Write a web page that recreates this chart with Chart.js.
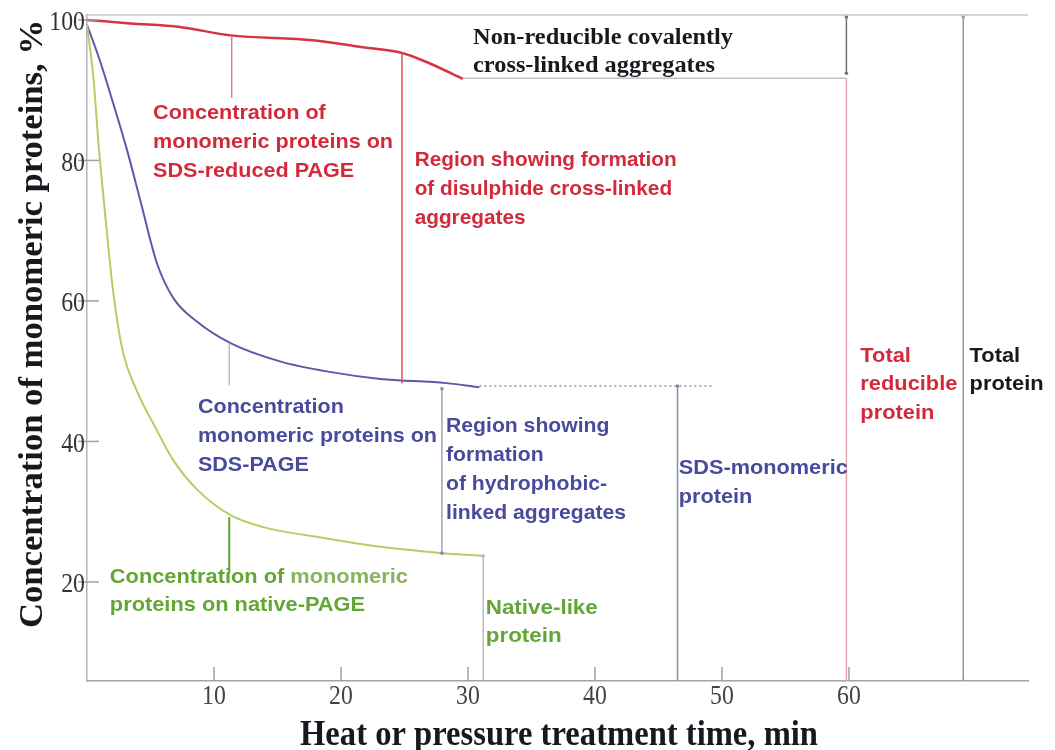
<!DOCTYPE html>
<html>
<head>
<meta charset="utf-8">
<script src="https://cdn.jsdelivr.net/npm/chart.js@4.4.1/dist/chart.umd.min.js"></script>
<style>
  html, body { margin: 0; padding: 0; background: #fff; }
  #wrap { width: 1055px; height: 750px; }
</style>
</head>
<body>
<div id="wrap"><canvas id="chart"></canvas></div>
<script>
'use strict';

// ─── Data ─────────────────────────────────────────────────────────────────────
const X_MIN = 0, X_MAX = 74.1;
const Y_MIN = 5.9, Y_MAX = 100.7;

const xTicks = [10, 20, 30, 40, 50, 60];
const yTicks = [20, 40, 60, 80, 100];

// SDS-reduced PAGE (red)
const timeRed = [0, 3.4, 7.3, 11.3, 17.8, 21.7, 24.8, 27.0, 29.6];
const sdsReduced = [100, 99.5, 99.0, 97.8, 97.1, 96.1, 95.3, 93.8, 91.6];

// SDS-PAGE (blue)
const timeBlue = [0, 1.0, 2.05, 3.15, 4.2, 5.5, 6.8, 8.7, 11.3, 15.2, 19.1, 23.1, 28.3, 30.9];
const sdsPage = [99.3, 94.3, 88.2, 81.5, 74.3, 65.4, 60.4, 57.0, 54.0, 51.4, 49.9, 48.9, 48.3, 47.7];

// native-PAGE (green)
const timeGreen = [0, 0.5, 0.9, 1.4, 2.05, 2.8, 3.9, 5.5, 6.8, 8.7, 11.3, 13.9, 17.8, 23.1, 28.0, 31.2];
const nativePage = [99.3, 91.9, 82.5, 72.9, 61.5, 53.0, 47.3, 41.6, 37.3, 33.1, 29.5, 27.8, 26.5, 25.0, 24.1, 23.7];

// guide segments [time, %]
const redPointer = [[11.4, 97.8], [11.4, 88.9]];
const disulphideGap = [[24.8, 95.3], [24.8, 48.3]];
const bluePointer = [[11.2, 54.0], [11.2, 48.0]];
const hydrophobicGap = [[27.95, 47.5], [27.95, 24.1]];
const sdsMonomerLevel = [[30.9, 47.9], [49.2, 47.9]];
const sdsMonomerDrop = [[46.5, 47.9], [46.5, Y_MIN]];
const nativeDrop = [[31.2, 23.7], [31.2, Y_MIN]];
const greenPointer = [[11.2, 29.2], [11.2, 21.2]];
const nonReducibleLevel = [[29.6, 91.7], [59.8, 91.7]];
const nonReducibleGap = [[59.8, 100.4], [59.8, 92.4]];
const totalReducible = [[59.8, 91.7], [59.8, Y_MIN]];
const totalProtein = [[69.0, 100.4], [69.0, Y_MIN]];

// ─── Styles ───────────────────────────────────────────────────────────────────
const RED = '#d32a3b';
const BLUE = '#4a4a9c';
const GREEN = '#63a636';
const GREEN_LIGHT = '#86b35c';
const BLACK = '#18181f';
const SANS = '"Liberation Sans", Arial, sans-serif';
const SERIF = '"Liberation Serif", "Times New Roman", serif';

// text blocks, anchored in data units (left edge, first line centre)
const notes = [
  { lines: ['Concentration of', 'monomeric proteins on', 'SDS-reduced PAGE'], at: [5.2, 86.75], color: RED, width: 240, gap: 29 },
  { lines: ['Region showing formation', 'of disulphide cross-linked', 'aggregates'], at: [25.8, 80.06], color: RED, width: 262, gap: 29 },
  { lines: ['Non-reducible covalently', 'cross-linked aggregates'], at: [30.4, 97.4], color: BLACK, width: 260, gap: 28, font: `bold 23px ${SERIF}` },
  { lines: ['Concentration', 'monomeric proteins on', 'SDS-PAGE'], at: [8.74, 44.9], color: BLUE, width: 239, gap: 29 },
  { lines: ['Region showing', 'formation', 'of hydrophobic-', 'linked aggregates'], at: [28.27, 42.2], color: BLUE, width: 180, gap: 29 },
  { lines: ['SDS-monomeric', 'protein'], at: [46.6, 36.2], color: BLUE, width: 169, gap: 29 },
  { lines: [[['Concentration of ', GREEN], ['monomeric', GREEN_LIGHT]], 'proteins on native-PAGE'], at: [1.8, 20.7], color: GREEN, width: 298, gap: 28 },
  { lines: ['Native-like', 'protein'], at: [31.4, 16.3], color: GREEN, width: 112, gap: 28 },
  { lines: ['Total', 'reducible', 'protein'], at: [60.9, 52.2], color: RED, width: 97, gap: 28.5 },
  { lines: ['Total', 'protein'], at: [69.5, 52.2], color: BLACK, width: 74, gap: 28.5 },
];

// ─── Helpers ──────────────────────────────────────────────────────────────────
const toXY = (xs, ys) => xs.map((t, i) => ({ x: t, y: ys[i] }));
const seg = pts => pts.map(([t, v]) => ({ x: t, y: v }));

function curve(data, color, width) {
  return { data, borderColor: color, borderWidth: width, pointRadius: 0, tension: 0.35, cubicInterpolationMode: 'monotone', fill: false };
}

function guide(pts, color, width, opts = {}) {
  return Object.assign({
    data: seg(pts), borderColor: color, borderWidth: width, pointRadius: 0,
    pointBackgroundColor: color, pointBorderWidth: 0, tension: 0, fill: false,
  }, opts);
}

function partsOf(line, color) {
  return typeof line === 'string' ? [[line, color]] : line;
}

function lineWidth(ctx, parts) {
  return parts.reduce((w, p) => w + ctx.measureText(p[0]).width, 0);
}

function drawParts(ctx, parts, x, y, sx) {
  ctx.save();
  ctx.translate(x, y);
  ctx.scale(sx, 1);
  let cx = 0;
  parts.forEach(([txt, col]) => {
    ctx.fillStyle = col;
    ctx.fillText(txt, cx, 0);
    cx += ctx.measureText(txt).width;
  });
  ctx.restore();
}

// ─── Overlay: ticks, labels, titles, notes ────────────────────────────────────
const overlayPlugin = {
  id: 'overlay',
  afterDatasetsDraw(chart) {
    const { ctx, chartArea: a, scales: { x, y } } = chart;

    ctx.save();
    // top frame line
    ctx.strokeStyle = '#c4c4d6';
    ctx.lineWidth = 1.5;
    ctx.beginPath(); ctx.moveTo(a.left, a.top); ctx.lineTo(a.right, a.top); ctx.stroke();

    // tick marks
    ctx.strokeStyle = '#a0a0a0';
    ctx.lineWidth = 1.5;
    xTicks.forEach(v => {
      const px = x.getPixelForValue(v);
      ctx.beginPath(); ctx.moveTo(px, a.bottom); ctx.lineTo(px, a.bottom - 14); ctx.stroke();
    });
    yTicks.forEach(v => {
      const py = y.getPixelForValue(v);
      ctx.beginPath(); ctx.moveTo(a.left - 9, py); ctx.lineTo(a.left + 12, py); ctx.stroke();
    });

    // tick labels
    ctx.font = `27px ${SERIF}`;
    ctx.textBaseline = 'middle';
    ctx.textAlign = 'center';
    xTicks.forEach(v => drawParts(ctx, [[String(v), '#444']], x.getPixelForValue(v), a.bottom + 16, 0.88));
    ctx.textAlign = 'right';
    yTicks.forEach(v => drawParts(ctx, [[String(v), '#333']], a.left - 2, y.getPixelForValue(v) + 3, 0.88));

    // axis titles
    ctx.textAlign = 'center';
    ctx.textBaseline = 'alphabetic';
    ctx.font = `bold 35px ${SERIF}`;
    const xTitle = 'Heat or pressure treatment time, min';
    drawParts(ctx, [[xTitle, BLACK]], 559, 745, 518 / ctx.measureText(xTitle).width);

    const yTitle = 'Concentration of monomeric proteins, %';
    ctx.font = `bold 34px ${SERIF}`;
    ctx.save();
    ctx.translate(42, 324);
    ctx.rotate(-Math.PI / 2);
    drawParts(ctx, [[yTitle, BLACK]], 0, 0, 608 / ctx.measureText(yTitle).width);
    ctx.restore();

    // annotation blocks
    ctx.textAlign = 'left';
    ctx.textBaseline = 'middle';
    notes.forEach(n => {
      ctx.font = n.font || `bold 21px ${SANS}`;
      const lines = n.lines.map(l => partsOf(l, n.color));
      const maxW = Math.max(...lines.map(p => lineWidth(ctx, p)));
      const sx = n.width / maxW;
      const px = x.getPixelForValue(n.at[0]);
      const py = y.getPixelForValue(n.at[1]);
      lines.forEach((p, i) => drawParts(ctx, p, px, py + i * n.gap, sx));
    });
    ctx.restore();
  },
};

// ─── Chart ────────────────────────────────────────────────────────────────────
new Chart(document.getElementById('chart'), {
  type: 'line',
  data: {
    datasets: [
      guide(nonReducibleLevel, '#c8c0c4', 1.5),
      guide(nonReducibleGap, '#707078', 1.5, { pointRadius: 1.8 }),
      guide(totalReducible, '#eaa8b0', 1.5),
      guide(totalProtein, '#9a9a9e', 1.5, { pointRadius: 1.8 }),
      guide(redPointer, '#c46c78', 1.2),
      guide(disulphideGap, '#e0505f', 1.5),
      guide(bluePointer, '#a8a8c4', 1.2),
      guide(hydrophobicGap, '#8c8cac', 1.2, { pointRadius: 1.8 }),
      guide(sdsMonomerLevel, '#8c8cb4', 1.5, { borderDash: [2, 3] }),
      guide(sdsMonomerDrop, '#8a8aae', 1.5, { pointRadius: [1.8, 0] }),
      guide(nativeDrop, '#b4b4b8', 1.3, { pointRadius: [1.6, 0] }),
      guide(greenPointer, '#5ea332', 2),
      curve(toXY(timeGreen, nativePage), '#b7cd62', 2),
      curve(toXY(timeBlue, sdsPage), '#5b5ba8', 2),
      curve(toXY(timeRed, sdsReduced), '#d8343f', 2.5),
    ],
  },
  options: {
    responsive: true,
    maintainAspectRatio: false,
    animation: false,
    parsing: true,
    layout: { padding: { top: 15, right: 27, left: 0, bottom: 0 } },
    plugins: { legend: { display: false }, tooltip: { enabled: false } },
    scales: {
      x: {
        type: 'linear', min: X_MIN, max: X_MAX,
        grid: { display: false },
        border: { color: '#a4a4a4', width: 1.5 },
        ticks: { display: false },
        afterFit: s => { s.height = 69; },
      },
      y: {
        type: 'linear', min: Y_MIN, max: Y_MAX,
        grid: { display: false },
        border: { color: '#b4b4bc', width: 1.5 },
        ticks: { display: false },
        afterFit: s => { s.width = 87; },
      },
    },
  },
  plugins: [overlayPlugin],
});
</script>
</body>
</html>
